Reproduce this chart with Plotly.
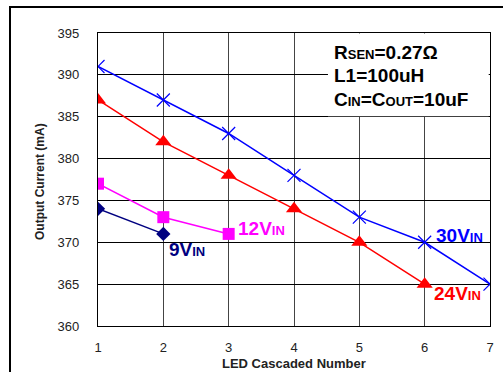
import plotly.graph_objects as go

x_30 = [1, 2, 3, 4, 5, 6, 7]
y_30 = [391, 387, 383, 378, 373, 370, 365]
x_24 = [1, 2, 3, 4, 5, 6]
y_24 = [387, 382, 378, 374, 370, 365]
x_12 = [1, 2, 3]
y_12 = [377, 373, 371]
x_9 = [1, 2]
y_9 = [374, 371]

x_ticks = [1, 2, 3, 4, 5, 6, 7]
y_ticks = [360, 365, 370, 375, 380, 385, 390, 395]

FONT = "Arial, Liberation Sans, sans-serif"
BLUE = "#0000FF"
RED = "#FF0000"
MAGENTA = "#FF00FF"
NAVY = "#000080"

W, H = 503, 372
ML, MT = 11, 8
PW, PH = W - ML, H - MT


def px(x):
    return (x - ML) / PW


def py(y):
    return 1 - (y - MT) / PH


fig = go.Figure()
fig.add_trace(go.Scatter(x=x_30, y=y_30, mode="lines+markers", name="30VIN",
                         line=dict(color=BLUE, width=1.5),
                         marker=dict(symbol="x-thin-open", size=13, color=BLUE,
                                     line=dict(color=BLUE, width=1.2))))
fig.add_trace(go.Scatter(x=x_24, y=y_24, mode="lines+markers", name="24VIN",
                         line=dict(color=RED, width=1.5),
                         marker=dict(symbol="triangle-up", size=14, color=RED)))
fig.add_trace(go.Scatter(x=x_12, y=y_12, mode="lines+markers", name="12VIN",
                         line=dict(color=MAGENTA, width=1.5),
                         marker=dict(symbol="square", size=12, color=MAGENTA)))
fig.add_trace(go.Scatter(x=x_9, y=y_9, mode="lines+markers", name="9VIN",
                         line=dict(color=NAVY, width=1.5),
                         marker=dict(symbol="diamond", size=11, color=NAVY)))
# empty trace carrying the outer frame axes
fig.add_trace(go.Scatter(x=[None], y=[None], xaxis="x2", yaxis="y2",
                         mode="markers", hoverinfo="skip", showlegend=False))


def vin(v):
    return (f"<b><span style='font-size:19px'>{v}V</span>"
            f"<span style='font-size:13px'>IN</span></b>")


labels = [
    ("9", NAVY, 167, 249),
    ("12", MAGENTA, 236, 229),
    ("30", BLUE, 434, 235),
    ("24", RED, 432, 293),
]
annotations = []
for v, col, lx, ly in labels:
    annotations.append(dict(
        x=px(lx), y=py(ly), xref="paper", yref="paper",
        xanchor="left", yanchor="middle", showarrow=False,
        text=vin(v), font=dict(family=FONT, color=col, size=19)))

box_lines = [
    "<b><span style='font-size:19px'>R</span><span style='font-size:13px'>SEN</span>"
    "<span style='font-size:19px'>=0.27Ω</span></b>",
    "<b>L1=100uH</b>",
    "<b><span style='font-size:19px'>C</span><span style='font-size:13px'>IN</span>"
    "<span style='font-size:19px'>=C</span><span style='font-size:13px'>OUT</span>"
    "<span style='font-size:19px'>=10uF</span></b>",
]
for t, ly in zip(box_lines, [52, 75, 99]):
    annotations.append(dict(
        x=px(332), y=py(ly), xref="paper", yref="paper",
        xanchor="left", yanchor="middle", showarrow=False,
        text=t, font=dict(family=FONT, color="black", size=19)))

annotations.append(dict(
    x=px(294), y=py(363), xref="paper", yref="paper", xanchor="center", yanchor="middle",
    showarrow=False, text="<b>LED Cascaded Number</b>",
    font=dict(family=FONT, size=13, color="#222222")))
annotations.append(dict(
    x=px(40), y=py(182), xref="paper", yref="paper", xanchor="center", yanchor="middle",
    showarrow=False, textangle=-90, text="<b>Output Current (mA)</b>",
    font=dict(family=FONT, size=12, color="#222222")))

fig.update_layout(
    width=W, height=H,
    margin=dict(l=ML, r=0, t=MT, b=0, pad=0),
    paper_bgcolor="white", plot_bgcolor="rgba(0,0,0,0)",
    showlegend=False,
    annotations=annotations,
    shapes=[
        dict(type="rect", xref="x", yref="y", x0=4.52, x1=6.98, y0=385.05, y1=394.95,
             fillcolor="white", line=dict(width=0), layer="between"),
    ],
    xaxis=dict(domain=[px(98), px(490)], range=[1, 7], tickvals=x_ticks,
               showgrid=True, gridcolor="#444444",
               gridwidth=1, zeroline=False, showline=True, linecolor="black",
               linewidth=1.2, mirror=True, ticks="", automargin=False,
               ticklabelstandoff=9,
               tickfont=dict(family=FONT, size=13, color="#222222")),
    yaxis=dict(domain=[py(326), py(33)], range=[360, 395], tickvals=y_ticks,
               showgrid=True, gridcolor="black",
               gridwidth=1, zeroline=False, showline=True, linecolor="black",
               linewidth=1.2, mirror=True, ticks="", automargin=False,
               ticklabelstandoff=15,
               tickfont=dict(family=FONT, size=13, color="#222222")),
    xaxis2=dict(domain=[0, 1], anchor="y2", side="top", range=[0, 1],
                showline=True, linecolor="black", linewidth=1.5,
                showgrid=False, zeroline=False, showticklabels=False, ticks="",
                automargin=False, fixedrange=True),
    yaxis2=dict(domain=[0, 1], anchor="x2", side="left", range=[0, 1],
                showline=True, linecolor="black", linewidth=1.5,
                showgrid=False, zeroline=False, showticklabels=False, ticks="",
                automargin=False, fixedrange=True),
)

fig.write_html("out.html", config={"displayModeBar": False},
               post_script="document.body.style.margin='0';document.body.style.overflow='hidden';")
